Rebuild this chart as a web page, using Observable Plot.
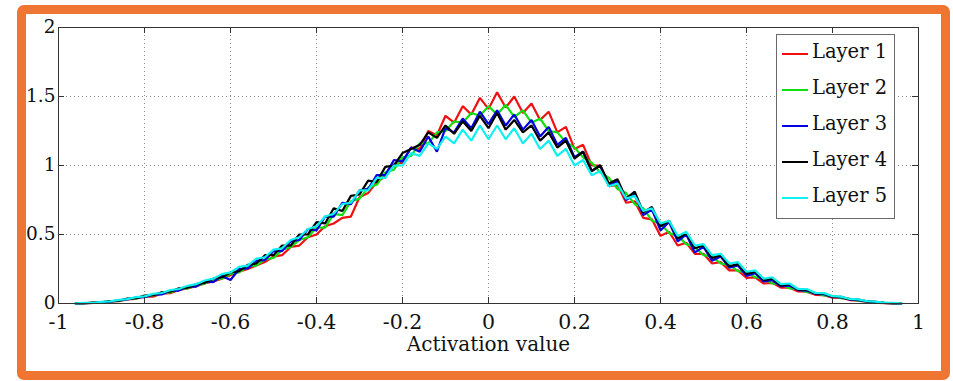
<!DOCTYPE html>
<html>
<head>
<meta charset="utf-8">
<script src="https://cdn.jsdelivr.net/npm/d3@7"></script>
<script src="https://cdn.jsdelivr.net/npm/@observablehq/plot@0.6"></script>
<style>
  html, body { margin: 0; padding: 0; background: #fff; }
  #wrap { position: relative; width: 953px; height: 381px; overflow: hidden; }
  #chart { position: absolute; left: 0; top: 0; }
  #frame { position: absolute; left: 17px; top: 5px; width: 933px; height: 375px; box-sizing: border-box;
           border: 9px solid #ef7533; border-radius: 7px; pointer-events: none; }
  #legend { position: absolute; left: 776px; top: 34px; width: 119px; height: 185px; box-sizing: border-box;
            border: 1px solid #6a6a6a; background: #fff; font-family: "DejaVu Serif", "Liberation Serif", serif; }
  #legend .sw { position: absolute; left: 5px; width: 26px; height: 2px; }
  #legend .lb { position: absolute; left: 35px; font-size: 19.5px; line-height: 20px; white-space: nowrap; color: #111; }
</style>
</head>
<body>
<div id="wrap">
  <div id="chart"></div>
  <div id="legend"></div>
  <div id="frame"></div>
</div>
<script>
const layerNames = ["Layer 1", "Layer 2", "Layer 3", "Layer 4", "Layer 5"];
const layerColors = ["#f01010", "#10e010", "#0000e0", "#000000", "#10f0f0"];

const xTicks = [-1, -0.8, -0.6, -0.4, -0.2, 0, 0.2, 0.4, 0.6, 0.8, 1];
const xTickLabels = ["-1", "-0.8", "-0.6", "-0.4", "-0.2", "0", "0.2", "0.4", "0.6", "0.8", "1"];
const yTicks = [0, 0.5, 1, 1.5, 2];
const yTickLabels = ["0", "0.5", "1", "1.5", "2"];
const xLabel = "Activation value";

const activation = [
  -0.96, -0.94, -0.92, -0.90, -0.88, -0.86, -0.84, -0.82, -0.80, -0.78,
  -0.76, -0.74, -0.72, -0.70, -0.68, -0.66, -0.64, -0.62, -0.60, -0.58,
  -0.56, -0.54, -0.52, -0.50, -0.48, -0.46, -0.44, -0.42, -0.40, -0.38,
  -0.36, -0.34, -0.32, -0.30, -0.28, -0.26, -0.24, -0.22, -0.20, -0.18,
  -0.16, -0.14, -0.12, -0.10, -0.08, -0.06, -0.04, -0.02,
  0.00, 0.02, 0.04, 0.06, 0.08, 0.10, 0.12, 0.14, 0.16, 0.18,
  0.20, 0.22, 0.24, 0.26, 0.28, 0.30, 0.32, 0.34, 0.36, 0.38,
  0.40, 0.42, 0.44, 0.46, 0.48, 0.50, 0.52, 0.54, 0.56, 0.58,
  0.60, 0.62, 0.64, 0.66, 0.68, 0.70, 0.72, 0.74, 0.76, 0.78,
  0.80, 0.82, 0.84, 0.86, 0.88, 0.90, 0.92, 0.94, 0.96
];

const layer1 = [
  0, 0.002, 0.004, 0.006, 0.013, 0.017, 0.03, 0.034, 0.052, 0.05,
  0.072, 0.075, 0.098, 0.11, 0.125, 0.145, 0.16, 0.18, 0.205, 0.23,
  0.25, 0.275, 0.30, 0.34, 0.35, 0.41, 0.42, 0.48, 0.50, 0.56,
  0.58, 0.62, 0.63, 0.77, 0.80, 0.88, 0.92, 1.01, 1.02, 1.13,
  1.12, 1.25, 1.22, 1.36, 1.31, 1.43, 1.37, 1.49,
  1.41, 1.53, 1.42, 1.50, 1.38, 1.45, 1.33, 1.39, 1.24, 1.28,
  1.12, 1.15, 1.00, 1.00, 0.85, 0.86, 0.73, 0.74, 0.62, 0.61,
  0.49, 0.52, 0.42, 0.44, 0.36, 0.36, 0.29, 0.30, 0.24, 0.24,
  0.185, 0.19, 0.145, 0.15, 0.115, 0.115, 0.087, 0.085, 0.063, 0.06,
  0.043, 0.04, 0.025, 0.021, 0.012, 0.006, 0.003, 0.001, 0
];

const layer2 = [
  0, 0.002, 0.005, 0.007, 0.015, 0.019, 0.033, 0.036, 0.054, 0.058,
  0.078, 0.08, 0.104, 0.11, 0.13, 0.145, 0.172, 0.18, 0.215, 0.225,
  0.27, 0.275, 0.32, 0.33, 0.39, 0.41, 0.46, 0.48, 0.55, 0.55,
  0.65, 0.64, 0.74, 0.76, 0.84, 0.86, 0.95, 0.97, 1.06, 1.07,
  1.16, 1.16, 1.24, 1.25, 1.32, 1.31, 1.38, 1.36,
  1.43, 1.37, 1.44, 1.35, 1.40, 1.31, 1.34, 1.25, 1.24, 1.17,
  1.13, 1.06, 1.02, 0.95, 0.91, 0.83, 0.80, 0.72, 0.69, 0.60,
  0.58, 0.51, 0.49, 0.43, 0.41, 0.35, 0.34, 0.29, 0.28, 0.235,
  0.23, 0.19, 0.18, 0.145, 0.14, 0.11, 0.105, 0.082, 0.078, 0.058,
  0.055, 0.038, 0.034, 0.02, 0.016, 0.008, 0.005, 0.002, 0
];

const layer3 = [
  0, 0.003, 0.004, 0.01, 0.014, 0.023, 0.029, 0.043, 0.046, 0.065,
  0.066, 0.092, 0.094, 0.122, 0.122, 0.16, 0.155, 0.20, 0.17, 0.25,
  0.255, 0.31, 0.315, 0.38, 0.38, 0.45, 0.46, 0.54, 0.53, 0.63,
  0.63, 0.73, 0.72, 0.82, 0.83, 0.93, 0.93, 1.04, 1.03, 1.13,
  1.10, 1.21, 1.10, 1.27, 1.24, 1.34, 1.27, 1.39,
  1.30, 1.40, 1.29, 1.37, 1.26, 1.33, 1.21, 1.28, 1.15, 1.20,
  1.06, 1.10, 0.96, 1.00, 0.85, 0.89, 0.75, 0.79, 0.64, 0.68,
  0.53, 0.59, 0.45, 0.50, 0.37, 0.41, 0.31, 0.34, 0.26, 0.275,
  0.20, 0.22, 0.16, 0.17, 0.125, 0.13, 0.097, 0.094, 0.07, 0.067,
  0.048, 0.045, 0.03, 0.025, 0.015, 0.011, 0.004, 0.003, 0
];

const layer4 = [
  0, 0.002, 0.006, 0.009, 0.018, 0.02, 0.036, 0.038, 0.057, 0.06,
  0.082, 0.085, 0.11, 0.115, 0.14, 0.15, 0.18, 0.19, 0.225, 0.235,
  0.28, 0.29, 0.35, 0.35, 0.42, 0.42, 0.50, 0.50, 0.59, 0.58,
  0.69, 0.67, 0.78, 0.79, 0.89, 0.88, 0.99, 1.00, 1.09, 1.12,
  1.15, 1.24, 1.20, 1.29, 1.23, 1.32, 1.25, 1.36,
  1.27, 1.38, 1.26, 1.33, 1.24, 1.29, 1.18, 1.24, 1.13, 1.18,
  1.05, 1.10, 0.96, 1.00, 0.87, 0.90, 0.76, 0.81, 0.66, 0.70,
  0.56, 0.60, 0.47, 0.51, 0.40, 0.42, 0.33, 0.35, 0.27, 0.285,
  0.215, 0.23, 0.17, 0.18, 0.13, 0.14, 0.10, 0.10, 0.073, 0.072,
  0.05, 0.048, 0.031, 0.028, 0.016, 0.012, 0.005, 0.003, 0
];

const layer5 = [
  0.001, 0.004, 0.005, 0.012, 0.016, 0.026, 0.032, 0.046, 0.052, 0.07,
  0.076, 0.097, 0.105, 0.128, 0.14, 0.167, 0.18, 0.213, 0.225, 0.265,
  0.275, 0.325, 0.335, 0.39, 0.40, 0.46, 0.48, 0.54, 0.56, 0.63,
  0.65, 0.72, 0.73, 0.82, 0.82, 0.91, 0.91, 1.00, 1.00, 1.09,
  1.07, 1.16, 1.12, 1.21, 1.16, 1.26, 1.18, 1.29,
  1.19, 1.29, 1.19, 1.27, 1.16, 1.23, 1.12, 1.18, 1.07, 1.12,
  1.00, 1.04, 0.93, 0.96, 0.85, 0.87, 0.76, 0.78, 0.67, 0.69,
  0.58, 0.60, 0.49, 0.52, 0.42, 0.43, 0.35, 0.36, 0.29, 0.30,
  0.23, 0.24, 0.18, 0.19, 0.14, 0.145, 0.105, 0.105, 0.077, 0.075,
  0.053, 0.05, 0.033, 0.03, 0.017, 0.013, 0.006, 0.004, 0.001
];

const series = [layer1, layer2, layer3, layer4, layer5];
const rows = [];
series.forEach((vals, k) => {
  vals.forEach((v, i) => rows.push({x: activation[i], y: v, layer: layerNames[k]}));
});

const serif = "DejaVu Serif, Liberation Serif, serif";
const xGrid = xTicks.filter(d => d > -1 && d < 1);
const yGrid = yTicks.filter(d => d > 0 && d < 2);

const chart = Plot.plot({
  width: 953,
  height: 381,
  marginLeft: 58,
  marginRight: 35,
  marginTop: 27,
  marginBottom: 78,
  style: {background: "transparent", fontFamily: serif},
  x: {domain: [-1, 1], axis: null},
  y: {domain: [0, 2], axis: null},
  color: {domain: layerNames, range: layerColors},
  marks: [
    Plot.ruleX(xGrid, {x: d => d, stroke: "#8a8a8a", strokeDasharray: "1,3", strokeWidth: 1}),
    Plot.ruleY(yGrid, {y: d => d, stroke: "#8a8a8a", strokeDasharray: "1,3", strokeWidth: 1}),
    Plot.line(rows, {x: "x", y: "y", z: "layer", stroke: "layer", strokeWidth: 2.2, strokeLinejoin: "miter"}),
    Plot.ruleX(xTicks, {x: d => d, insetTop: 270, stroke: "#333"}),
    Plot.ruleX(xTicks, {x: d => d, insetBottom: 270, stroke: "#333"}),
    Plot.ruleY(yTicks, {y: d => d, insetRight: 854, stroke: "#333"}),
    Plot.ruleY(yTicks, {y: d => d, insetLeft: 854, stroke: "#333"}),
    Plot.frame({stroke: "#333", strokeWidth: 1}),
    Plot.text(xTicks, {x: d => d, frameAnchor: "bottom", dy: 25, text: (d, i) => xTickLabels[i],
      fontSize: 20.5, fill: "#111", fontFamily: serif}),
    Plot.text(yTicks, {y: d => d, frameAnchor: "left", dx: -3, textAnchor: "end", text: (d, i) => yTickLabels[i],
      fontSize: 18.5, fill: "#111", fontFamily: serif}),
    Plot.text([xLabel], {frameAnchor: "bottom", dy: 47, text: d => d, fontSize: 20, fill: "#111", fontFamily: serif})
  ]
});
document.getElementById("chart").appendChild(chart);

// legend
const legend = document.getElementById("legend");
layerNames.forEach((name, i) => {
  const sw = document.createElement("div");
  sw.className = "sw";
  sw.style.top = (18 + 36 * i) + "px";
  sw.style.background = layerColors[i];
  legend.appendChild(sw);
  const lb = document.createElement("div");
  lb.className = "lb";
  lb.style.top = (7 + 36 * i) + "px";
  lb.textContent = name;
  legend.appendChild(lb);
});
</script>
</body>
</html>
